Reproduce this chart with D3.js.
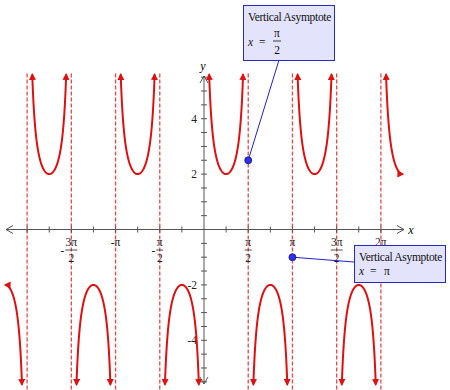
<!DOCTYPE html>
<html><head><meta charset="utf-8">
<script src="https://cdn.jsdelivr.net/npm/d3@7"></script>
<style>html,body{margin:0;padding:0;background:#fff;}svg{display:block;}</style>
</head><body>
<script>
const PI = Math.PI;
// function: y = A * csc(B * x)
const amplitude = 2;
const frequency = 2;
const xDomain = [-2.25 * PI, 2.25 * PI];
const yDomain = [-5.6, 5.6];
const asymptoteHalfPis = [-4, -3, -2, -1, 1, 2, 3, 4];
const xTickQuarterPis = [-8, -7, -6, -5, -4, -3, -2, -1, 1, 2, 3, 4, 5, 6, 7, 8];
const yTickValues = [-5.5, -5, -4.5, -4, -3.5, -3, -2.5, -2, -1.5, -1, -0.5, 0.5, 1, 1.5, 2, 2.5, 3, 3.5, 4, 4.5, 5, 5.5];
const xLabelHalfPis = [-3, -2, -1, 1, 2, 3, 4];
const xLabelNum = ["3π", "π", "π", "π", "π", "3π", "2π"];
const xLabelDen = ["2", "", "2", "2", "", "2", ""];
const xLabelNeg = [true, true, true, false, false, false, false];
const yLabelValues = [4, 2, -2, -4];
const yLabelText = ["4", "2", "-2", "-4"];
const calloutX = [PI / 2, PI];
const calloutY = [2.5, -1];
const calloutTitle = ["Vertical Asymptote", "Vertical Asymptote"];
const calloutNum = ["π", "π"];
const calloutDen = ["2", ""];

const W = 450, H = 390;
const svg = d3.select("body").append("svg").attr("width", W).attr("height", H);
const x = d3.scaleLinear().domain(xDomain).range([5, 403]);
const y = d3.scaleLinear().domain(yDomain).range([384.6, 74.4]);
const serif = "'Liberation Serif', 'DejaVu Serif', serif";

const defs = svg.append("defs");
defs.append("marker").attr("id", "arr").attr("viewBox", "0 0 10 10")
  .attr("refX", 8).attr("refY", 5).attr("markerWidth", 7).attr("markerHeight", 7)
  .attr("markerUnits", "userSpaceOnUse").attr("orient", "auto-start-reverse")
  .append("path").attr("d", "M0,0 L10,5 L0,10 z").attr("fill", "#e01010");

// asymptotes
svg.append("g").selectAll("line").data(asymptoteHalfPis).join("line")
  .attr("x1", d => x(d * PI / 2)).attr("x2", d => x(d * PI / 2))
  .attr("y1", y(yDomain[1]) - 1).attr("y2", H)
  .attr("stroke", "#e24a4a").attr("stroke-width", 1.3).attr("stroke-dasharray", "4,2");

// axes
const axisColor = "#555";
const ax = svg.append("g").attr("stroke", axisColor).attr("fill", "none").attr("stroke-width", 1);
const xA0 = 6, xA1 = 404, y0 = y(0), x0 = x(0);
const yA0 = 76, yA1 = 384;
ax.append("line").attr("x1", xA0).attr("x2", xA1).attr("y1", y0).attr("y2", y0);
ax.append("line").attr("x1", x0).attr("x2", x0).attr("y1", yA0).attr("y2", yA1);
ax.append("path").attr("d", `M${xA0 + 7},${y0 - 4} L${xA0},${y0} L${xA0 + 7},${y0 + 4}`);
ax.append("path").attr("d", `M${xA1 - 7},${y0 - 4} L${xA1},${y0} L${xA1 - 7},${y0 + 4}`);
ax.append("path").attr("d", `M${x0 - 4},${yA0 + 7} L${x0},${yA0} L${x0 + 4},${yA0 + 7}`);
ax.append("path").attr("d", `M${x0 - 4},${yA1 - 7} L${x0},${yA1} L${x0 + 4},${yA1 - 7}`);
ax.selectAll(".xt").data(xTickQuarterPis).join("line")
  .attr("x1", d => x(d * PI / 4)).attr("x2", d => x(d * PI / 4))
  .attr("y1", y0 - 3).attr("y2", y0 + 3);
ax.selectAll(".yt").data(yTickValues).join("line")
  .attr("y1", d => y(d)).attr("y2", d => y(d))
  .attr("x1", x0 - 3).attr("x2", x0 + 3);

svg.append("text").attr("x", 411).attr("y", y0 + 4).attr("text-anchor", "middle")
  .attr("font-family", serif).attr("font-style", "italic").attr("font-size", 12).text("x");
svg.append("text").attr("x", x0 - 1).attr("y", 70).attr("text-anchor", "middle")
  .attr("font-family", serif).attr("font-style", "italic").attr("font-size", 12).text("y");

// y labels
svg.append("g").selectAll("text").data(yLabelValues).join("text")
  .attr("x", x0 - 7).attr("y", d => y(d) + 4).attr("text-anchor", "end")
  .attr("font-family", serif).attr("font-size", 11.5).attr("fill", "#222")
  .text((d, i) => yLabelText[i]);

// x labels
const xl = svg.append("g").attr("font-family", serif).attr("font-size", 11.5).attr("fill", "#222");
xLabelHalfPis.forEach((k, i) => {
  const cx = x(k * PI / 2);
  const g = xl.append("g");
  if (xLabelDen[i]) {
    g.append("text").attr("x", cx).attr("y", 246).attr("text-anchor", "middle").text(xLabelNum[i]);
    const w = xLabelNum[i].length > 1 ? 12 : 7;
    g.append("line").attr("x1", cx - w / 2).attr("x2", cx + w / 2).attr("y1", 250).attr("y2", 250)
      .attr("stroke", "#222").attr("stroke-width", 0.8);
    g.append("text").attr("x", cx).attr("y", 262).attr("text-anchor", "middle").text(xLabelDen[i]);
    if (xLabelNeg[i]) g.append("text").attr("x", cx - w / 2 - 1).attr("y", 254).attr("text-anchor", "end").text("-");
  } else {
    g.append("text").attr("x", cx).attr("y", 246).attr("text-anchor", "middle").text((xLabelNeg[i] ? "-" : "") + xLabelNum[i]);
  }
});

// curve branches
const f = t => amplitude / Math.sin(frequency * t);
const bounds = [xDomain[0], ...asymptoteHalfPis.map(k => k * PI / 2), xDomain[1]];
// include the asymptote at 0 as a branch boundary
bounds.splice(5, 0, 0);
const yMax = yDomain[1];
const off = Math.asin(amplitude / yMax) / frequency;
const line = d3.line().x(d => x(d[0])).y(d => y(d[1]));
for (let i = 0; i < bounds.length - 1; i++) {
  let a = bounds[i], b = bounds[i + 1];
  const aIsAsym = i > 0, bIsAsym = i < bounds.length - 2;
  if (aIsAsym) a += off;
  if (bIsAsym) b -= off;
  const pts = d3.range(0, 201).map(j => {
    const t = a + (b - a) * j / 200;
    return [t, f(t)];
  });
  svg.append("path").attr("d", line(pts)).attr("fill", "none")
    .attr("stroke", "#e01010").attr("stroke-width", 2)
    .attr("marker-start", "url(#arr)").attr("marker-end", "url(#arr)");
}

// callouts
const boxes = [
  {x: 243, y: 5, w: 91, h: 55, ax: 279, ay: 60},
  {x: 354, y: 245, w: 91, h: 37, ax: 354, ay: 262}
];
calloutX.forEach((cxv, i) => {
  const b = boxes[i];
  const px = x(cxv), py = y(calloutY[i]);
  svg.append("line").attr("x1", px).attr("y1", py).attr("x2", b.ax).attr("y2", b.ay)
    .attr("stroke", "#2222c8").attr("stroke-width", 1);
  svg.append("rect").attr("x", b.x + 0.5).attr("y", b.y + 0.5).attr("width", b.w).attr("height", b.h)
    .attr("fill", "#e3e3fb").attr("stroke", "#2a2ac0").attr("stroke-width", 1);
  const g = svg.append("g").attr("font-family", serif).attr("font-size", 11.5).attr("fill", "#111");
  g.append("text").attr("x", b.x + 5).attr("y", b.y + 16).attr("letter-spacing", -0.3).text(calloutTitle[i]);
  if (calloutDen[i]) {
    g.append("text").attr("x", b.x + 5).attr("y", b.y + 41).attr("font-style", "italic").text("x");
    g.append("text").attr("x", b.x + 16).attr("y", b.y + 41).text("=");
    const fx = b.x + 34;
    g.append("text").attr("x", fx).attr("y", b.y + 32).attr("text-anchor", "middle").text(calloutNum[i]);
    g.append("line").attr("x1", fx - 4).attr("x2", fx + 4).attr("y1", b.y + 36).attr("y2", b.y + 36)
      .attr("stroke", "#111").attr("stroke-width", 0.8);
    g.append("text").attr("x", fx).attr("y", b.y + 49).attr("text-anchor", "middle").text(calloutDen[i]);
  } else {
    g.append("text").attr("x", b.x + 5).attr("y", b.y + 30).attr("font-style", "italic").text("x");
    g.append("text").attr("x", b.x + 16).attr("y", b.y + 30).text("=");
    g.append("text").attr("x", b.x + 30).attr("y", b.y + 30).text(calloutNum[i]);
  }
  svg.append("circle").attr("cx", px).attr("cy", py).attr("r", 3.5)
    .attr("fill", "#3030f0").attr("stroke", "#10107a").attr("stroke-width", 0.8);
});
</script>
</body></html>
